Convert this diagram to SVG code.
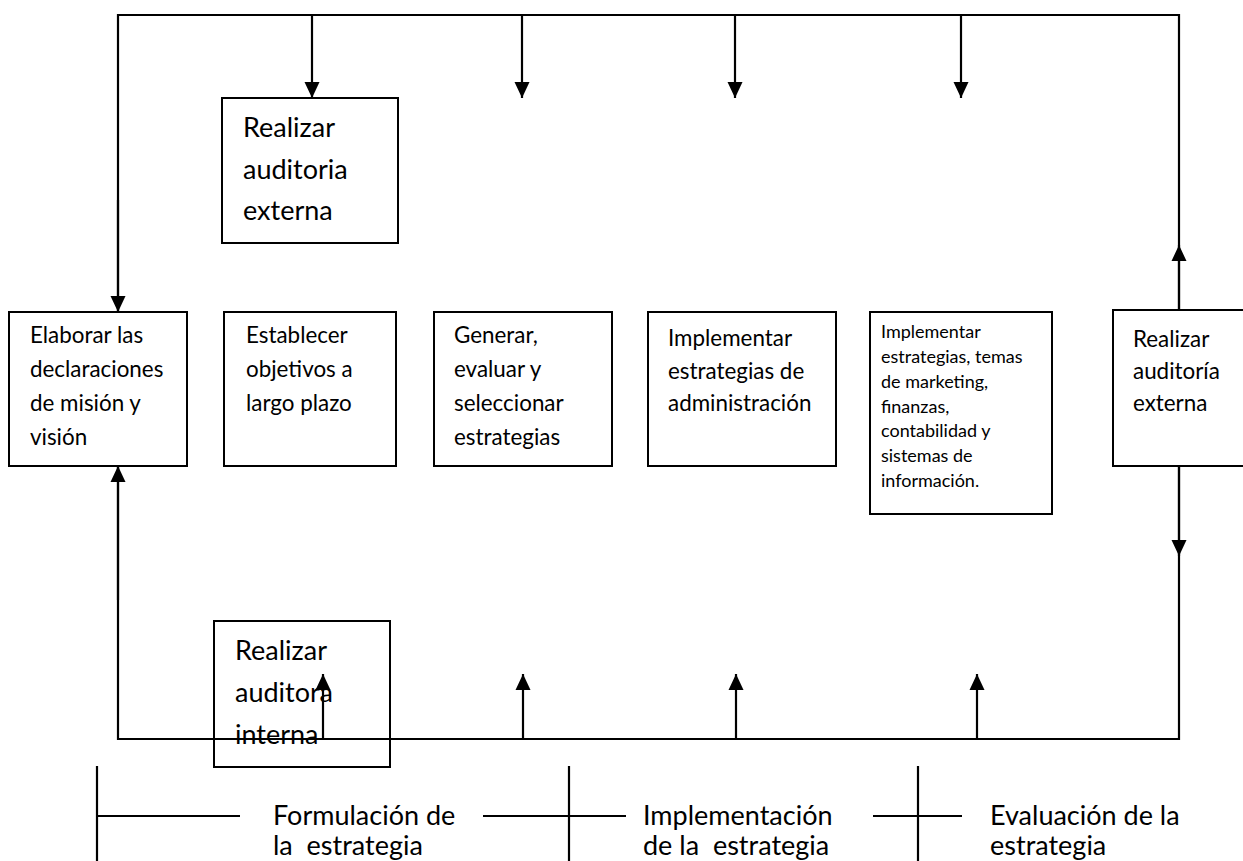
<svg xmlns="http://www.w3.org/2000/svg" width="1243" height="861" viewBox="0 0 1243 861">
<defs>
<marker id="ah" markerUnits="userSpaceOnUse" markerWidth="16" markerHeight="16" viewBox="0 0 16 16" refX="16" refY="8" orient="auto">
<path d="M0,0.5 L16,8 L0,15.5 Z" fill="#000"/>
</marker>
<style>
.box{fill:none;stroke:#000;stroke-width:2}
.ln{fill:none;stroke:#000;stroke-width:2.2}
.t{font-family:Lato,"Open Sans",sans-serif;font-size:22.4px;fill:#000}
.tl{font-family:Lato,"Open Sans",sans-serif;font-size:27px;fill:#000}
.ts{font-family:Lato,"Open Sans",sans-serif;font-size:18px;fill:#000}
.tg{font-family:Lato,"Open Sans",sans-serif;font-size:27px;fill:#000}
</style>
</defs>
<rect width="1243" height="861" fill="#fff"/>
<g id="connectors">
<path class="ln" d="M118,312 L118,15 L1179,15 L1179,310"/>
<path class="ln" d="M118,466 L118,739 L1179,739 L1179,466"/>
<line class="ln" x1="118" y1="200" x2="118" y2="312" marker-end="url(#ah)"/>
<line class="ln" x1="118" y1="600" x2="118" y2="466" marker-end="url(#ah)"/>
<line class="ln" x1="312" y1="15" x2="312" y2="98" marker-end="url(#ah)"/>
<line class="ln" x1="522" y1="15" x2="522" y2="98" marker-end="url(#ah)"/>
<line class="ln" x1="735" y1="15" x2="735" y2="98" marker-end="url(#ah)"/>
<line class="ln" x1="961" y1="15" x2="961" y2="98" marker-end="url(#ah)"/>
<line class="ln" x1="323" y1="739" x2="323" y2="674" marker-end="url(#ah)"/>
<line class="ln" x1="523" y1="739" x2="523" y2="674" marker-end="url(#ah)"/>
<line class="ln" x1="736" y1="739" x2="736" y2="674" marker-end="url(#ah)"/>
<line class="ln" x1="977" y1="739" x2="977" y2="674" marker-end="url(#ah)"/>
<line class="ln" x1="1179" y1="310" x2="1179" y2="245" marker-end="url(#ah)"/>
<line class="ln" x1="1179" y1="466" x2="1179" y2="556" marker-end="url(#ah)"/>
</g>
<g id="node-ext-top">
<rect class="box" x="222" y="98" width="176" height="145"/>
<text class="tl" x="243" y="137">Realizar</text>
<text class="tl" x="243" y="179">auditoria</text>
<text class="tl" x="243" y="220">externa</text>
</g>
<g id="node-mision">
<rect class="box" x="9" y="312" width="178" height="154"/>
<text class="t" x="30" y="343">Elaborar las</text>
<text class="t" x="30" y="377">declaraciones</text>
<text class="t" x="30" y="411">de misión y</text>
<text class="t" x="30" y="445">visión</text>
</g>
<g id="node-objetivos">
<rect class="box" x="224" y="312" width="172" height="154"/>
<text class="t" x="246" y="343">Establecer</text>
<text class="t" x="246" y="377">objetivos a</text>
<text class="t" x="246" y="411">largo plazo</text>
</g>
<g id="node-generar">
<rect class="box" x="434" y="312" width="178" height="154"/>
<text class="t" x="454" y="343">Generar,</text>
<text class="t" x="454" y="377">evaluar y</text>
<text class="t" x="454" y="411">seleccionar</text>
<text class="t" x="454" y="445">estrategias</text>
</g>
<g id="node-admin">
<rect class="box" x="648" y="312" width="188" height="154"/>
<text class="t" x="668" y="346">Implementar</text>
<text class="t" x="668" y="379">estrategias de</text>
<text class="t" x="668" y="411">administración</text>
</g>
<g id="node-marketing">
<rect class="box" x="870" y="312" width="182" height="202"/>
<text class="ts" x="881" y="338">Implementar</text>
<text class="ts" x="881" y="363">estrategias, temas</text>
<text class="ts" x="881" y="388">de marketing,</text>
<text class="ts" x="881" y="413">finanzas,</text>
<text class="ts" x="881" y="437">contabilidad y</text>
<text class="ts" x="881" y="462">sistemas de</text>
<text class="ts" x="881" y="487">información.</text>
</g>
<g id="node-ext-right">
<rect class="box" x="1113" y="310" width="150" height="156"/>
<text class="t" x="1133" y="347">Realizar</text>
<text class="t" x="1133" y="379">auditoría</text>
<text class="t" x="1133" y="411">externa</text>
</g>
<g id="node-int">
<rect class="box" x="214" y="621" width="176" height="146"/>
<text class="tl" x="235" y="660">Realizar</text>
<text class="tl" x="235" y="702">auditora</text>
<text class="tl" x="235" y="744">interna</text>
</g>
<g id="legend">
<path class="ln" d="M97,766 L97,861 M97,816 L240,816"/>
<path class="ln" d="M569,766 L569,861 M483,816 L626,816"/>
<path class="ln" d="M918,766 L918,861 M873,816 L962,816"/>
<text class="tg" x="273" y="825">Formulación de</text>
<text class="tg" x="273" y="855" xml:space="preserve">la  estrategia</text>
<text class="tg" x="643" y="825">Implementación</text>
<text class="tg" x="643" y="855" xml:space="preserve">de la  estrategia</text>
<text class="tg" x="990" y="825">Evaluación de la</text>
<text class="tg" x="990" y="855">estrategia</text>
</g>
</svg>
